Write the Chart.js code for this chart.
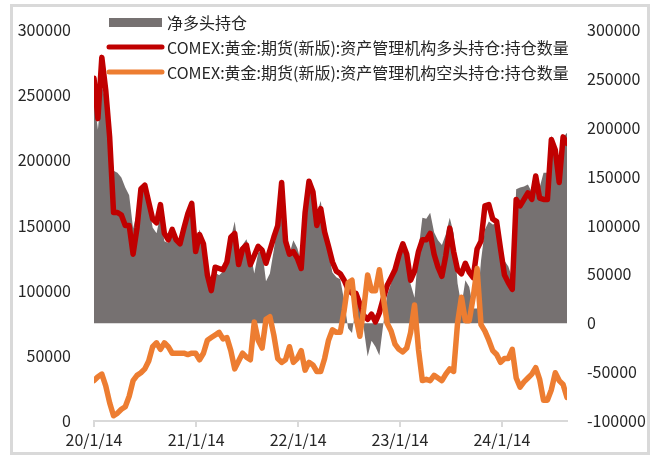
<!DOCTYPE html>
<html>
<head>
<meta charset="utf-8">
<script src="https://cdn.jsdelivr.net/npm/chart.js@4.4.1/dist/chart.umd.min.js"></script>
<style>
  html, body { margin: 0; padding: 0; background: #fff; }
  #wrap { position: relative; width: 655px; height: 456px; overflow: hidden; }
  #frame { position: absolute; left: 10px; top: 4px; width: 640px; height: 451px; border: 3px solid #d9d9d9; box-sizing: border-box; }
  #myChart { position: absolute; left: 0; top: 0; }
</style>
</head>
<body>
<div id="wrap">
  <div id="frame"></div>
  <canvas id="myChart" width="655" height="456"></canvas>
</div>
<script>
// biweekly COT readings, first report 2020-01-14
const startDate = '2020-01-14';
const stepDays = 14;

const seriesNames = [
  '净多头持仓',
  'COMEX:黄金:期货(新版):资产管理机构多头持仓:持仓数量',
  'COMEX:黄金:期货(新版):资产管理机构空头持仓:持仓数量'
];

// long positions (left axis)
const longPos = [
  263000, 232000, 279000, 254000, 218000, 160000, 160000, 158000, 150000, 150000,
  128000, 148000, 178000, 181000, 168000, 155000, 152000, 166000, 144000, 139000,
  147000, 139000, 136000, 148000, 159000, 167000, 130000, 143000, 136000, 112000,
  100000, 118000, 117000, 116000, 122000, 141000, 144000, 120000, 132000, 135000,
  120000, 127000, 134000, 131000, 121000, 131000, 141000, 150000, 183000, 138000,
  128000, 130000, 125000, 117000, 160000, 184000, 176000, 150000, 163000, 145000,
  134000, 122000, 115000, 113000, 108000, 101000, 98000, 98000, 90000, 81000,
  78000, 82000, 76000, 83000, 94000, 104000, 110000, 116000, 127000, 136000,
  128000, 108000, 115000, 130000, 139000, 139000, 144000, 128000, 118000, 111000,
  127000, 148000, 130000, 116000, 113000, 121000, 114000, 110000, 132000, 138000,
  165000, 166000, 155000, 153000, 132000, 112000, 106000, 101000, 170000, 165000,
  170000, 175000, 170000, 188000, 171000, 170000, 170000, 216000, 208000, 183000,
  218000, 213000
];

// short positions (left axis)
const shortPos = [
  31000, 34000, 36000, 27000, 14000, 4000, 6000, 9000, 11000, 19000,
  31000, 35000, 37000, 40000, 46000, 57000, 60000, 55000, 60000, 57000,
  52000, 52000, 52000, 52000, 51000, 52000, 52000, 47000, 52000, 62000,
  64000, 66000, 68000, 63000, 64000, 54000, 40000, 46000, 52000, 49000,
  47000, 76000, 62000, 56000, 78000, 80000, 66000, 48000, 45000, 47000,
  57000, 45000, 48000, 54000, 39000, 45000, 43000, 38000, 38000, 48000,
  62000, 70000, 68000, 68000, 85000, 106000, 108000, 80000, 65000, 86000,
  112000, 100000, 100000, 116000, 95000, 75000, 69000, 59000, 55000, 53000,
  56000, 68000, 89000, 55000, 31000, 32000, 31000, 35000, 33000, 31000,
  36000, 40000, 38000, 75000, 95000, 77000, 77000, 95000, 117000, 74000,
  69000, 62000, 54000, 51000, 45000, 48000, 48000, 55000, 33000, 26000,
  30000, 33000, 36000, 41000, 32000, 16000, 16000, 24000, 37000, 31000,
  28000, 18000
];

// net long (right axis)
const netPos = [
  232000, 198000, 243000, 227000, 204000, 156000, 154000, 149000, 139000, 131000,
  97000, 113000, 141000, 141000, 122000, 98000, 92000, 111000, 84000, 82000,
  95000, 87000, 84000, 96000, 108000, 115000, 78000, 96000, 84000, 50000,
  36000, 52000, 49000, 53000, 58000, 87000, 104000, 74000, 80000, 86000,
  73000, 51000, 72000, 75000, 43000, 51000, 75000, 102000, 138000, 91000,
  71000, 85000, 77000, 63000, 121000, 139000, 133000, 112000, 125000, 97000,
  72000, 52000, 47000, 45000, 23000, -5000, -10000, 18000, 25000, -5000,
  -34000, -18000, -24000, -33000, -1000, 29000, 41000, 57000, 72000, 83000,
  72000, 40000, 26000, 75000, 108000, 107000, 113000, 93000, 85000, 80000,
  91000, 108000, 92000, 41000, 18000, 44000, 37000, 15000, 15000, 64000,
  96000, 104000, 101000, 102000, 87000, 64000, 58000, 46000, 137000, 139000,
  140000, 142000, 134000, 147000, 139000, 154000, 154000, 192000, 171000, 152000,
  190000, 195000
];

const tickDates = ['2020-01-14', '2021-01-14', '2022-01-14', '2023-01-14', '2024-01-14'];
const tickLabels = ['20/1/14', '21/1/14', '22/1/14', '23/1/14', '24/1/14'];

const DAY = 86400000;
function daysFrom(d) {
  return Math.round((Date.parse(d) - Date.parse(startDate)) / DAY);
}
const tickDays = tickDates.map(daysFrom);

function toPoints(arr) {
  return arr.map((v, i) => ({ x: i * stepDays, y: v }));
}

const FONT = '"Noto Sans CJK SC", "Noto Sans", sans-serif';
const tickFont = { family: FONT, size: 16 };
const textColor = '#262626';

const colors = ['#767171', '#C00000', '#ED7D31'];

// legend drawn inside the plot, top left
const innerLegend = {
  id: 'innerLegend',
  afterDraw(chart) {
    const ctx = chart.ctx;
    const a = chart.chartArea;
    const sx = a.left + 15, ex = a.left + 68, tx = a.left + 73;
    const rows = [a.top - 8, a.top + 17, a.top + 42];
    ctx.save();
    ctx.font = '16px ' + FONT;
    ctx.textBaseline = 'middle';
    ctx.textAlign = 'left';
    for (let i = 0; i < 3; i++) {
      const y = rows[i];
      if (i == 0) {
        ctx.fillStyle = colors[0];
        ctx.fillRect(sx, y - 4, ex - sx, 9);
      } else {
        ctx.strokeStyle = colors[i];
        ctx.lineWidth = 5;
        ctx.lineCap = 'round';
        ctx.beginPath();
        ctx.moveTo(sx, y);
        ctx.lineTo(ex, y);
        ctx.stroke();
      }
      ctx.fillStyle = textColor;
      ctx.fillText(seriesNames[i], tx, y + 1);
    }
    ctx.restore();
  }
};

const ctx = document.getElementById('myChart');
new Chart(ctx, {
  type: 'line',
  data: {
    datasets: [{
      label: seriesNames[0],
      data: toPoints(netPos),
      yAxisID: 'y1',
      fill: 'origin',
      backgroundColor: colors[0],
      borderWidth: 0,
      pointRadius: 0,
      order: 3
    }, {
      label: seriesNames[1],
      data: toPoints(longPos),
      yAxisID: 'y',
      borderColor: colors[1],
      borderWidth: 5.5,
      pointRadius: 0,
      borderJoinStyle: 'round',
      borderCapStyle: 'round',
      order: 2
    }, {
      label: seriesNames[2],
      data: toPoints(shortPos),
      yAxisID: 'y',
      borderColor: colors[2],
      borderWidth: 5.5,
      pointRadius: 0,
      borderJoinStyle: 'round',
      borderCapStyle: 'round',
      order: 1
    }]
  },
  options: {
    responsive: false,
    animation: false,
    layout: { padding: { top: 30, bottom: 0, left: 0, right: 0 } },
    plugins: {
      legend: { display: false },
      tooltip: { enabled: false }
    },
    scales: {
      x: {
        type: 'linear',
        min: 0,
        max: (longPos.length - 1) * stepDays,
        afterBuildTicks(s) { s.ticks = tickDays.map(v => ({ value: v })); },
        afterFit(s) { s.height = 35; },
        ticks: {
          autoSkip: false, maxRotation: 0, padding: 3,
          font: tickFont, color: textColor,
          callback: (v, i) => tickLabels[i]
        },
        grid: { drawOnChartArea: false, tickLength: 6, color: '#d9d9d9', lineWidth: 2 },
        border: { color: '#d9d9d9', width: 2 }
      },
      y: {
        position: 'left',
        min: 0, max: 300000,
        afterFit(s) { s.width = 94; },
        ticks: { stepSize: 50000, padding: 15, font: tickFont, color: textColor, callback: v => String(v) },
        grid: { display: false },
        border: { display: false }
      },
      y1: {
        position: 'right',
        min: -100000, max: 300000,
        afterFit(s) { s.width = 88; },
        ticks: { stepSize: 50000, padding: 12, font: tickFont, color: textColor, callback: v => String(v) },
        grid: { display: false },
        border: { display: false }
      }
    }
  },
  plugins: [innerLegend]
});
</script>
</body>
</html>
